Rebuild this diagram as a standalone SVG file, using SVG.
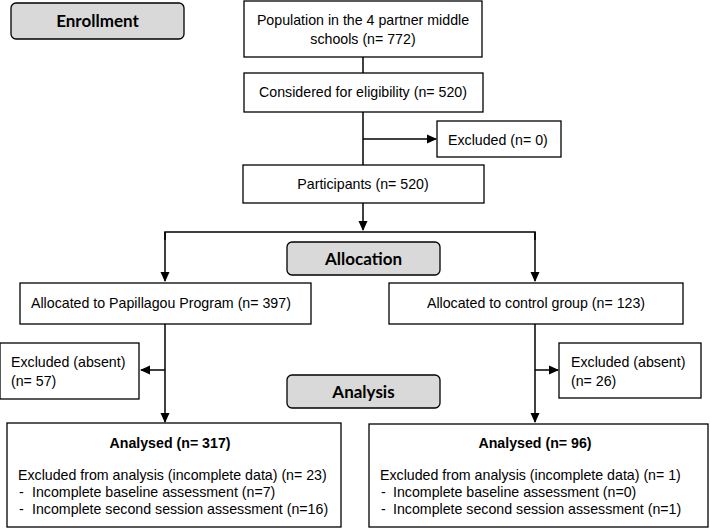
<svg xmlns="http://www.w3.org/2000/svg" width="710" height="529" viewBox="0 0 710 529">
<defs>
<marker id="ah" markerWidth="10" markerHeight="10" refX="9" refY="5" orient="auto" markerUnits="userSpaceOnUse">
<path d="M0,0.5 L10,5 L0,9.5 Z" fill="#000"/>
</marker>
<style>
.box{fill:#fff;stroke:#000;stroke-width:1.3}
.stage{fill:#d9d9d9;stroke:#000;stroke-width:1.3}
.t{font-family:'Liberation Sans',Arial,sans-serif;font-size:14.2px;fill:#000}
.b{font-family:'Liberation Sans',Arial,sans-serif;font-size:14.2px;font-weight:bold;fill:#000}
.s{font-family:Lato,'Open Sans',sans-serif;font-size:17px;font-weight:bold;fill:#000}
.c{fill:none;stroke:#000;stroke-width:1.5}
</style>
</defs>
<rect width="710" height="529" fill="#fff"/>
<g id="enrollment"><rect class="stage" x="11" y="3" width="173" height="36" rx="5"/><text class="s" x="97.5" y="27" text-anchor="middle">Enrollment</text></g>
<g id="population"><rect class="box" x="244" y="1" width="238" height="56"/><text class="t" x="363" y="25" text-anchor="middle">Population in the 4 partner middle</text><text class="t" x="363" y="44" text-anchor="middle">schools (n= 772)</text></g>
<g id="considered"><rect class="box" x="244" y="73" width="239" height="39"/><text class="t" x="363" y="97" text-anchor="middle">Considered for eligibility (n= 520)</text></g>
<g id="excluded0"><rect class="box" x="437" y="121" width="124" height="36"/><text class="t" x="448" y="145">Excluded (n= 0)</text></g>
<g id="participants"><rect class="box" x="243" y="165" width="241" height="38"/><text class="t" x="363" y="189" text-anchor="middle">Participants (n= 520)</text></g>
<g id="allocation"><rect class="stage" x="287" y="242" width="153" height="33" rx="5"/><text class="s" x="363.5" y="265" text-anchor="middle">Allocation</text></g>
<g id="alloc-papillagou"><rect class="box" x="20" y="283" width="291" height="41"/><text class="t" x="31" y="308">Allocated to Papillagou Program (n= 397)</text></g>
<g id="alloc-control"><rect class="box" x="389" y="283" width="294" height="41"/><text class="t" x="536" y="308" text-anchor="middle">Allocated to control group (n= 123)</text></g>
<g id="excluded-left"><rect class="box" x="0" y="343" width="139" height="56"/><text class="t" x="11" y="367">Excluded (absent)</text><text class="t" x="11" y="386">(n= 57)</text></g>
<g id="excluded-right"><rect class="box" x="559" y="343" width="142" height="55"/><text class="t" x="571" y="367">Excluded (absent)</text><text class="t" x="571" y="386">(n= 26)</text></g>
<g id="analysis"><rect class="stage" x="287" y="375" width="153" height="33" rx="5"/><text class="s" x="363.5" y="398" text-anchor="middle">Analysis</text></g>
<g id="analysed-left"><rect class="box" x="7" y="423" width="334" height="104"/><text class="b" x="170" y="448" text-anchor="middle">Analysed (n= 317)</text><text class="t" x="18" y="480">Excluded from analysis (incomplete data) (n= 23)</text><text class="t" y="497"><tspan x="19">-</tspan><tspan x="32">Incomplete baseline assessment (n=7)</tspan></text><text class="t" y="514"><tspan x="19">-</tspan><tspan x="32">Incomplete second session assessment (n=16)</tspan></text></g>
<g id="analysed-right"><rect class="box" x="369" y="424" width="339" height="103"/><text class="b" x="535" y="448" text-anchor="middle">Analysed (n= 96)</text><text class="t" x="380" y="480">Excluded from analysis (incomplete data) (n= 1)</text><text class="t" y="497"><tspan x="381">-</tspan><tspan x="393">Incomplete baseline assessment (n=0)</tspan></text><text class="t" y="514"><tspan x="381">-</tspan><tspan x="393">Incomplete second session assessment (n=1)</tspan></text></g>
<g id="connectors">
<line class="c" x1="363" y1="57" x2="363" y2="73"/>
<line class="c" x1="363" y1="112" x2="363" y2="165"/>
<line class="c" x1="363" y1="139" x2="436" y2="139" marker-end="url(#ah)"/>
<line class="c" x1="363" y1="203" x2="363" y2="230" marker-end="url(#ah)"/>
<polyline class="c" points="165,240 165,232 535,232 535,240"/>
<line class="c" x1="165" y1="232" x2="165" y2="281" marker-end="url(#ah)"/>
<line class="c" x1="535" y1="232" x2="535" y2="281" marker-end="url(#ah)"/>
<line class="c" x1="165" y1="324" x2="165" y2="422" marker-end="url(#ah)"/>
<line class="c" x1="165" y1="370" x2="141" y2="370" marker-end="url(#ah)"/>
<line class="c" x1="535" y1="324" x2="535" y2="422" marker-end="url(#ah)"/>
<line class="c" x1="535" y1="370" x2="558" y2="370" marker-end="url(#ah)"/>
</g>
</svg>
